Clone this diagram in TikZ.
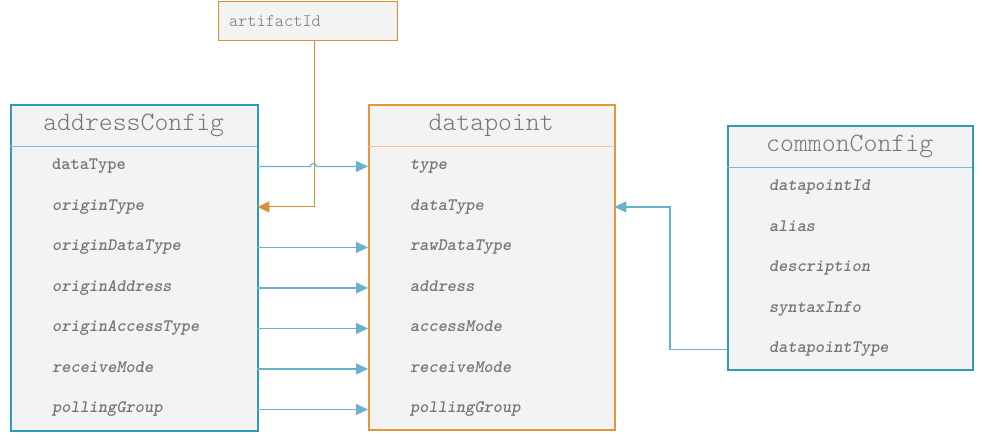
\documentclass[tikz,border=0pt]{standalone}
\usepackage{fontspec}
\setmonofont{lmmonolt10-regular.otf}[BoldFont=lmmonolt10-bold.otf,ItalicFont=lmmonolt10-oblique.otf,
                                     BoldItalicFont=lmmonolt10-boldoblique.otf]
\usetikzlibrary{arrows.meta,shadows}

\definecolor{boxfill}{HTML}{F3F3F3}
\definecolor{txtgrey}{HTML}{767676}
\definecolor{cfgteal}{HTML}{2E9CB8}
\definecolor{cfgsep}{HTML}{74BED6}
\definecolor{dporange}{HTML}{E3973C}
\definecolor{dpsep}{HTML}{F0C68E}
\definecolor{artorange}{HTML}{E08E36}
\definecolor{linkblue}{HTML}{6AB1CD}

\begin{document}
\begin{tikzpicture}
      [   x=1pt,y=-1pt,
          classbox/.style={draw=#1,line width=1.6pt,fill=boxfill,inner sep=0pt,anchor=north west,
                           drop shadow={shadow xshift=1.5pt,shadow yshift=-1.5pt,opacity=0.3}},
          head/.style={minimum width=#1,minimum height=42pt,inner sep=0pt,anchor=north west,text=txtgrey,
                       font=\fontsize{26.5}{28}\selectfont\ttfamily},
          field/.style={text width=#1,inner xsep=42pt,inner ysep=0pt,minimum height=40.5pt,align=left,
                        text height=9pt,text depth=2pt,
                        anchor=north west,text=txtgrey,font=\fontsize{17.5}{19}\selectfont\ttfamily\bfseries\itshape},
          link/.style={draw=linkblue,line width=1.2pt,-{Triangle[length=12pt,width=11pt]}},
      ]
          \useasboundingbox (0,0) rectangle (984,441);

          % addressConfig
          \node[classbox=cfgteal,minimum width=247pt,minimum height=326pt] (ac) at (10,104) {};
          \node[head=247pt] (ach) at (ac.north west) {addressConfig};
          \draw[cfgsep,line width=1.2pt] (ach.south west) -- (ach.south east);
          \node[field=163pt] (ac1) at (10,146) {\upshape dataType};
          \node[field=163pt] (ac2) at (10,186.5) {originType};
          \node[field=163pt] (ac3) at (10,227) {originDataType};
          \node[field=163pt] (ac4) at (10,267.5) {originAddress};
          \node[field=163pt] (ac5) at (10,308) {originAccessType};
          \node[field=163pt] (ac6) at (10,348.5) {receiveMode};
          \node[field=163pt] (ac7) at (10,389) {pollingGroup};

          % datapoint
          \node[classbox=dporange,minimum width=246pt,minimum height=325pt] (dp) at (368,104) {};
          \node[head=246pt] (dph) at (dp.north west) {datapoint};
          \draw[dpsep,line width=1.2pt] (dph.south west) -- (dph.south east);
          \node[field=162pt] (dp1) at (368,146) {type};
          \node[field=162pt] (dp2) at (368,186.5) {dataType};
          \node[field=162pt] (dp3) at (368,227) {rawDataType};
          \node[field=162pt] (dp4) at (368,267.5) {address};
          \node[field=162pt] (dp5) at (368,308) {accessMode};
          \node[field=162pt] (dp6) at (368,348.5) {receiveMode};
          \node[field=162pt] (dp7) at (368,389) {pollingGroup};

          % commonConfig
          \node[classbox=cfgteal,minimum width=245pt,minimum height=244pt] (cc) at (727,125) {};
          \node[head=245pt] (cch) at (cc.north west) {commonConfig};
          \draw[cfgsep,line width=1.2pt] (cch.south west) -- (cch.south east);
          \node[field=161pt] (cc1) at (727,167) {datapointId};
          \node[field=161pt] (cc2) at (727,207.5) {alias};
          \node[field=161pt] (cc3) at (727,248) {description};
          \node[field=161pt] (cc4) at (727,288.5) {syntaxInfo};
          \node[field=161pt] (cc5) at (727,329) {datapointType};

          % artifactId
          \node[draw=artorange,line width=1pt,fill=boxfill,anchor=north west,minimum width=179pt,minimum height=39pt,
                text width=157pt,inner xsep=11pt,align=left,text=txtgrey,
                font=\fontsize{17.5}{19}\selectfont\ttfamily] (art) at (217.5,1.5) {artifactId};

          % links
          \draw[draw=artorange,line width=1pt,-{Triangle[length=12pt,width=11pt]}]
                ([xshift=6.5pt]art.south) |- (ac2.east);
          \draw[link] (ac1.east) -- ++(53,0) arc[start angle=180,end angle=0,radius=3pt] -- (dp1.west);
          \draw[link] (ac3.east) -- (dp3.west);
          \draw[link] (ac4.east) -- (dp4.west);
          \draw[link] (ac5.east) -- (dp5.west);
          \draw[link] (ac6.east) -- (dp6.west);
          \draw[link] (ac7.east) -- (dp7.west);
          \draw[link] (cc5.west) -- ++(-57,0) |- (dp2.east);
    \end{tikzpicture}
\end{document}
